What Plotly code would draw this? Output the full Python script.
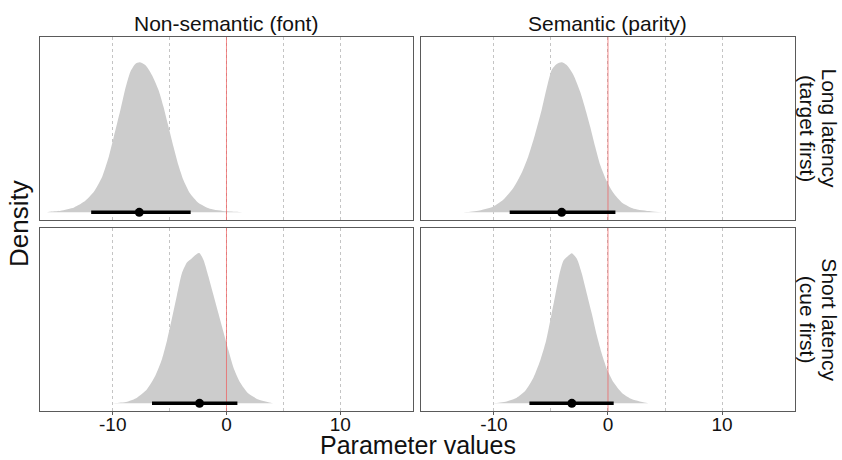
import plotly.graph_objects as go

# ---- data ----
col_labels = ["Non-semantic (font)", "Semantic (parity)"]
row_labels = [["Long latency", "(target first)"], ["Short latency", "(cue first)"]]
x_title = "Parameter values"
y_title = "Density"
tick_vals = [-10, 0, 10]
tick_text = ["-10", "0", "10"]
minor_vals = [-5, 5]
ref_value = 0

# top-left: Non-semantic, long latency
tl_x = [-15.8, -15.6, -14.58, -13.4, -12.54, -11.66, -10.93, -10.35, -9.91, -9.33, -8.89, -8.45, -8.02, -7.64,
        -7.14, -6.56, -5.98, -5.54, -5.10, -4.66, -4.23, -3.79, -3.21, -2.48, -1.46, 0.0, 1.17, 1.4]
tl_d = [0.0, 0.004, 0.011, 0.033, 0.07, 0.138, 0.238, 0.371, 0.504, 0.682, 0.827, 0.938, 0.989, 1.0,
        0.982, 0.916, 0.816, 0.704, 0.571, 0.438, 0.316, 0.216, 0.127, 0.064, 0.024, 0.007, 0.002, 0.0]
tl_point, tl_lo, tl_hi = -7.67, -11.9, -3.15

# top-right: Semantic, long latency
tr_x = [-12.7, -12.44, -11.26, -10.09, -9.21, -8.32, -7.59, -7.0, -6.41, -5.82, -5.38, -4.94, -4.5, -4.06,
        -3.62, -3.03, -2.44, -2.0, -1.56, -1.12, -0.68, -0.09, 0.5, 1.24, 2.26, 3.74, 4.75]
tr_d = [0.0, 0.002, 0.013, 0.038, 0.082, 0.16, 0.26, 0.371, 0.516, 0.682, 0.827, 0.949, 0.989, 1.0,
        0.982, 0.916, 0.804, 0.693, 0.571, 0.438, 0.316, 0.204, 0.127, 0.064, 0.024, 0.007, 0.0]
tr_point, tr_lo, tr_hi = -4.06, -8.62, 0.65

# bottom-left: Non-semantic, short latency
bl_x = [-10.0, -9.77, -8.74, -7.87, -6.99, -6.26, -5.67, -5.23, -4.8, -4.36, -3.92, -3.48, -3.04, -2.6, -2.37,
        -2.02, -1.58, -1.14, -0.7, -0.26, 0.18, 0.61, 1.2, 1.93, 2.81, 3.98, 4.1]
bl_d = [0.0, 0.002, 0.011, 0.038, 0.094, 0.183, 0.295, 0.418, 0.564, 0.72, 0.866, 0.937, 0.966, 0.995, 1.0,
        0.955, 0.843, 0.72, 0.597, 0.474, 0.351, 0.239, 0.139, 0.065, 0.025, 0.002, 0.0]
bl_point, bl_lo, bl_hi = -2.37, -6.55, 0.96

# bottom-right: Semantic, short latency
br_x = [-10.0, -9.91, -8.89, -8.0, -7.27, -6.54, -5.95, -5.43, -5.01, -4.63, -4.25, -3.9, -3.46, -3.17,
        -2.73, -2.29, -1.85, -1.41, -0.97, -0.53, -0.09, 0.5, 1.23, 2.11, 3.43, 3.7]
br_d = [0.0, 0.002, 0.013, 0.038, 0.082, 0.171, 0.283, 0.416, 0.572, 0.717, 0.862, 0.951, 0.984, 1.0,
        0.962, 0.862, 0.728, 0.595, 0.45, 0.327, 0.227, 0.138, 0.069, 0.027, 0.002, 0.0]
br_point, br_lo, br_hi = -3.17, -6.89, 0.5

panels = [
    (tl_x, tl_d, tl_point, tl_lo, tl_hi),
    (tr_x, tr_d, tr_point, tr_lo, tr_hi),
    (bl_x, bl_d, bl_point, bl_lo, bl_hi),
    (br_x, br_d, br_point, br_lo, br_hi),
]

# ---- style ----
W, H = 842, 460
ML, MR, MT, MB = 40, 47, 37, 49
x_range = [-16.4, 16.4]
y_range = [-0.051, 1.169]
slab_color = "#CCCCCC"
border = "#5a5a5a"
grid_col = "#c4c4c4"
font_family = "Liberation Sans, Arial, sans-serif"
txt = "#111111"

x_domains = [[0.0, 0.494], [0.5046, 1.0]]
y_domains = [[0.5107, 1.0], [0.0, 0.490]]

fig = go.Figure()

for i, (xs, ds, pt, lo, hi) in enumerate(panels):
    ax = "" if i == 0 else str(i + 1)
    xa, ya = "x" + ax, "y" + ax
    fig.add_trace(go.Scatter(x=xs, y=ds, xaxis=xa, yaxis=ya, mode="lines",
                             line=dict(width=0, shape="spline", smoothing=0.6, color=slab_color),
                             fill="tozeroy", fillcolor=slab_color, hoverinfo="skip", showlegend=False))
    fig.add_trace(go.Scatter(x=[ref_value, ref_value], y=y_range, xaxis=xa, yaxis=ya, mode="lines",
                             line=dict(width=0.7, color="#ee5a5a"), hoverinfo="skip", showlegend=False))
    fig.add_trace(go.Scatter(x=[lo, hi], y=[0, 0], xaxis=xa, yaxis=ya, mode="lines",
                             line=dict(width=3.5, color="black"), hoverinfo="skip", showlegend=False))
    fig.add_trace(go.Scatter(x=[pt], y=[0], xaxis=xa, yaxis=ya, mode="markers",
                             marker=dict(size=9, color="black"), hoverinfo="skip", showlegend=False))

    r, c = divmod(i, 2)
    bottom = (r == 1)
    xaxis = dict(domain=x_domains[c], range=x_range, anchor=ya,
                 tickmode="array", tickvals=tick_vals, ticktext=tick_text,
                 showticklabels=bottom, ticks="outside" if bottom else "",
                 ticklen=3, tickcolor=border, tickwidth=1, ticklabelstandoff=-7,
                 showgrid=True, gridcolor=grid_col, gridwidth=1, griddash="3px,3px",
                 minor=dict(tickmode="array", tickvals=minor_vals, showgrid=True,
                            gridcolor=grid_col, gridwidth=1, griddash="3px,3px", ticks=""),
                 zeroline=False, showline=True, mirror=True, linecolor=border, linewidth=1.3,
                 tickfont=dict(size=19, color=txt, family=font_family), fixedrange=True)
    yaxis = dict(domain=y_domains[r], range=y_range, anchor=xa,
                 showticklabels=False, ticks="", showgrid=False, zeroline=False,
                 showline=True, mirror=True, linecolor=border, linewidth=1.3, fixedrange=True)
    fig.layout["xaxis" + ax] = xaxis
    fig.layout["yaxis" + ax] = yaxis

annotations = []
# column strip labels
for c, lab in enumerate(col_labels):
    annotations.append(dict(text=lab, xref="paper", yref="paper",
                            x=(x_domains[c][0] + x_domains[c][1]) / 2, y=1.0,
                            yshift=14, xanchor="center", yanchor="middle", showarrow=False,
                            font=dict(size=21, color=txt, family=font_family)))
# row strip labels (two lines each, rotated)
for r, (l1, l2) in enumerate(row_labels):
    yc = (y_domains[r][0] + y_domains[r][1]) / 2
    annotations.append(dict(text=l1, xref="paper", yref="paper", x=1.0, y=yc, xshift=35,
                            xanchor="center", yanchor="middle", textangle=90, showarrow=False,
                            font=dict(size=21, color=txt, family=font_family)))
    annotations.append(dict(text=l2, xref="paper", yref="paper", x=1.0, y=yc, xshift=12.5,
                            xanchor="center", yanchor="middle", textangle=90, showarrow=False,
                            font=dict(size=21, color=txt, family=font_family)))
# axis titles
annotations.append(dict(text=x_title, xref="paper", yref="paper", x=0.5, y=0, yshift=-34,
                        xanchor="center", yanchor="middle", showarrow=False, borderpad=0,
                        font=dict(size=25, color=txt, family=font_family)))
annotations.append(dict(text=y_title, xref="paper", yref="paper", x=0, y=0.5, xshift=-21,
                        xanchor="center", yanchor="middle", textangle=-90, showarrow=False,
                        font=dict(size=26, color=txt, family=font_family)))

fig.update_layout(width=W, height=H, margin=dict(l=ML, r=MR, t=MT, b=MB),
                  paper_bgcolor="white", plot_bgcolor="white",
                  annotations=annotations, showlegend=False,
                  font=dict(family=font_family, color=txt))

fig.write_html("out.html", config={"displayModeBar": False})
